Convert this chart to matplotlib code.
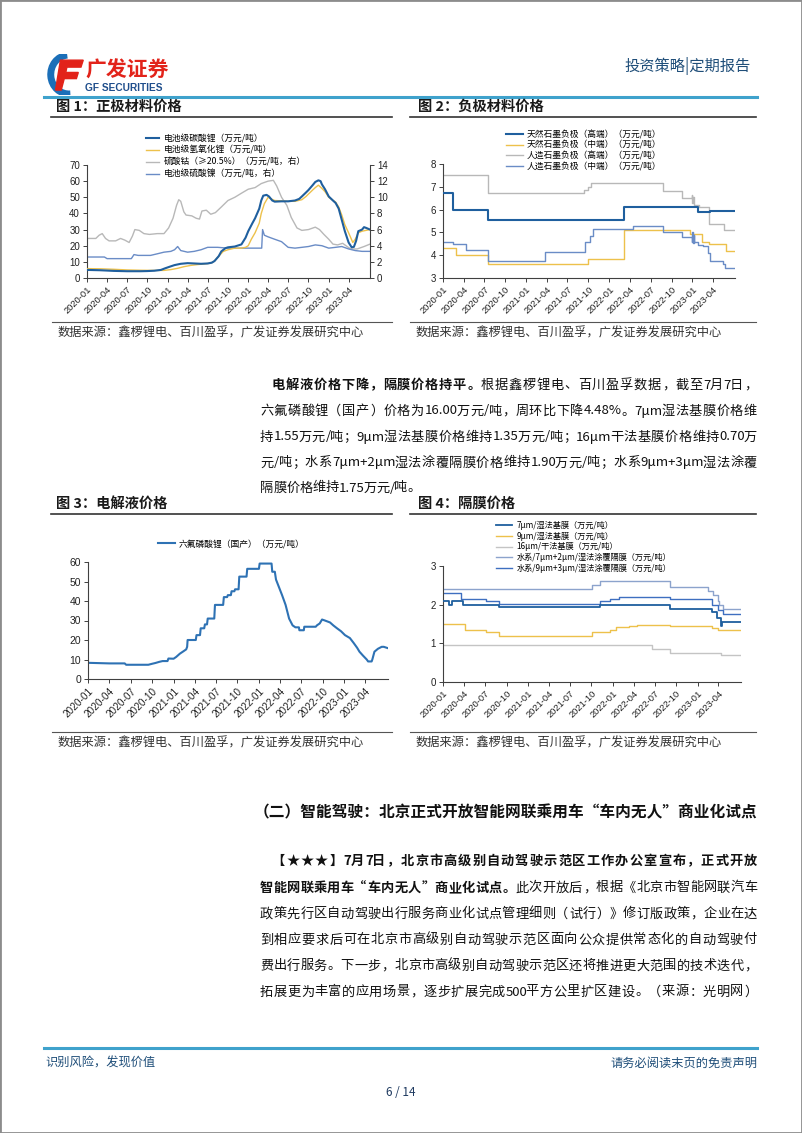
import matplotlib
matplotlib.use('Agg')
import matplotlib.pyplot as plt
import matplotlib.dates as mdates
from matplotlib.patches import Rectangle, Arc, Polygon
from matplotlib.lines import Line2D
import pandas as pd

CN = ['Noto Sans CJK SC', 'DejaVu Sans']
NUM = 'Liberation Sans'
plt.rcParams['font.family'] = CN

W, H = 802, 1133


def fx(px):
    return px / W


def fy(py):
    return 1 - py / H


# ---------------- 图1 正极材料价格 ----------------
carb_dates = ['2020-01-01', '2020-02-01', '2020-03-01', '2020-04-01', '2020-05-01', '2020-06-01',
              '2020-07-01', '2020-08-01', '2020-09-01', '2020-10-01', '2020-11-01', '2020-12-01',
              '2020-12-20', '2021-01-10', '2021-02-01', '2021-03-01', '2021-04-01', '2021-05-01',
              '2021-06-01', '2021-07-01', '2021-07-20', '2021-08-01', '2021-08-20', '2021-09-01',
              '2021-09-20', '2021-10-01', '2021-11-01', '2021-12-01', '2021-12-20', '2022-01-01',
              '2022-01-20', '2022-02-01', '2022-02-20', '2022-03-01', '2022-03-10', '2022-03-25',
              '2022-04-05', '2022-04-20', '2022-05-01', '2022-06-01', '2022-07-01', '2022-08-01',
              '2022-08-20', '2022-09-01', '2022-09-20', '2022-10-01', '2022-10-20', '2022-11-01',
              '2022-11-15', '2022-11-25', '2022-12-01', '2022-12-15', '2023-01-01', '2023-01-20',
              '2023-02-01', '2023-02-15', '2023-03-01', '2023-03-15', '2023-04-01', '2023-04-15',
              '2023-04-25', '2023-05-05', '2023-05-15', '2023-06-01', '2023-06-10', '2023-06-20',
              '2023-07-07']
carb_vals = [5.0, 4.9, 4.8, 4.6, 4.4, 4.3, 4.2, 4.2, 4.2, 4.3, 4.5, 5.0,
             6.0, 7.0, 8.0, 8.8, 9.2, 9.0, 8.8, 9.0, 9.5, 10.5, 13.5, 16.5,
             18.5, 19.0, 19.5, 20.8, 25.0, 29.0, 34.0, 37.0, 43.0, 48.0, 51.0, 51.5,
             50.5, 48.0, 47.3, 47.5, 47.5, 48.0, 49.0, 50.5, 53.0, 54.5, 57.5, 59.5,
             60.5, 60.0, 58.0, 55.0, 50.5, 48.0, 46.5, 43.0, 36.0, 29.0, 22.0, 19.0,
             19.3, 23.0, 29.0, 30.0, 31.5, 31.0, 30.0]

lioh_dates = ['2020-01-01', '2020-03-01', '2020-05-01', '2020-07-01', '2020-09-01', '2020-11-01',
              '2020-12-15', '2021-01-15', '2021-02-15', '2021-03-15', '2021-04-15', '2021-05-15',
              '2021-06-15', '2021-07-15', '2021-08-01', '2021-08-20', '2021-09-10', '2021-10-01',
              '2021-11-01', '2021-12-01', '2021-12-20', '2022-01-01', '2022-01-15', '2022-02-01',
              '2022-02-20', '2022-03-01', '2022-03-15', '2022-04-01', '2022-04-15', '2022-05-01',
              '2022-06-01', '2022-07-01', '2022-08-01', '2022-09-01', '2022-09-20', '2022-10-01',
              '2022-10-20', '2022-11-01', '2022-11-15', '2022-12-01', '2022-12-15', '2023-01-01',
              '2023-02-01', '2023-02-15', '2023-03-01', '2023-03-15', '2023-04-01', '2023-04-20',
              '2023-05-01', '2023-05-15', '2023-06-01', '2023-07-07']
lioh_vals = [5.8, 5.7, 5.4, 5.0, 4.8, 4.7, 4.7, 5.2, 6.0, 7.0, 7.8, 8.3,
             8.7, 9.2, 10.5, 13.5, 16.5, 17.5, 18.5, 18.5, 19.0, 20.0, 24.0, 28.0,
             34.0, 40.0, 46.0, 50.0, 49.0, 48.0, 47.8, 47.5, 47.5, 48.5, 50.5, 52.0,
             54.5, 56.0, 57.5, 55.5, 53.5, 50.0, 47.0, 44.0, 39.0, 33.0, 28.0, 22.0,
             24.0, 28.0, 29.0, 30.0]

coso4_dates = ['2020-01-01', '2020-02-10', '2020-02-25', '2020-03-10', '2020-03-25', '2020-04-10',
               '2020-05-10', '2020-06-01', '2020-06-20', '2020-07-10', '2020-07-25', '2020-08-05',
               '2020-08-25', '2020-09-15', '2020-10-10', '2020-11-15', '2020-12-15', '2021-01-05',
               '2021-01-25', '2021-02-10', '2021-02-20', '2021-03-01', '2021-03-15', '2021-03-25',
               '2021-04-20', '2021-05-10', '2021-05-25', '2021-06-05', '2021-06-25', '2021-07-15',
               '2021-08-05', '2021-09-01', '2021-10-01', '2021-11-01', '2021-12-01', '2022-01-01',
               '2022-02-01', '2022-03-01', '2022-04-01', '2022-04-25', '2022-05-10', '2022-06-01',
               '2022-06-25', '2022-07-15', '2022-08-10', '2022-09-01', '2022-10-01', '2022-11-01',
               '2022-11-20', '2022-12-10', '2023-01-01', '2023-01-20', '2023-02-10', '2023-03-05',
               '2023-03-20', '2023-04-10', '2023-05-10', '2023-06-10', '2023-07-07']
coso4_vals = [4.9, 4.9, 5.3, 5.5, 4.9, 4.6, 4.6, 4.9, 4.7, 4.4, 5.2, 6.0,
              5.9, 5.5, 5.4, 5.5, 5.5, 6.2, 7.4, 9.0, 9.7, 9.5, 8.2, 7.8,
              7.7, 7.4, 7.3, 8.3, 8.4, 7.9, 8.1, 8.8, 9.6, 10.0, 10.5, 11.0,
              11.2, 11.7, 12.0, 12.1, 11.4, 10.0, 9.0, 7.5, 6.2, 5.9, 6.0, 6.3,
              6.0, 5.4, 4.8, 4.2, 4.1, 4.3, 4.0, 3.6, 3.6, 3.9, 4.2]

niso4_dates = ['2020-01-01', '2020-03-20', '2020-04-01', '2020-07-20', '2020-08-01', '2020-08-20',
               '2020-10-15', '2020-11-15', '2020-12-15', '2021-01-15', '2021-02-01', '2021-02-15',
               '2021-03-01', '2021-04-01', '2021-05-01', '2021-06-01', '2021-07-01', '2021-08-15',
               '2021-10-01', '2022-03-03', '2022-03-07', '2022-03-15', '2022-04-01', '2022-05-01',
               '2022-06-01', '2022-07-01', '2022-08-01', '2022-09-01', '2022-10-01', '2022-11-01',
               '2022-12-01', '2023-01-01', '2023-02-01', '2023-03-01', '2023-04-01', '2023-05-01',
               '2023-06-01', '2023-07-07']
niso4_vals = [2.6, 2.6, 2.4, 2.4, 2.9, 2.8, 2.8, 3.0, 3.2, 3.3, 3.5, 3.9,
              3.4, 3.2, 3.3, 3.5, 3.8, 3.8, 3.7, 3.7, 6.0, 5.3, 5.1, 4.8,
              4.5, 3.8, 3.7, 3.8, 3.9, 4.1, 4.0, 3.7, 3.8, 3.9, 3.6, 3.4,
              3.3, 3.3]

# ---------------- 图2 负极材料价格 (阶梯) ----------------
nat_hi_dates = ['2020-01-01', '2020-02-15', '2020-07-18', '2022-03-07', '2023-01-25', '2023-03-18', '2023-07-07']
nat_hi_vals = [6.75, 6.0, 5.55, 6.1, 5.9, 5.95, 5.95]

nat_mid_dates = ['2020-01-01', '2020-02-25', '2020-07-18', '2021-10-01', '2022-03-07', '2022-12-20',
                 '2023-02-10', '2023-03-15', '2023-05-28', '2023-07-07']
nat_mid_vals = [4.3, 4.0, 3.6, 3.85, 5.1, 4.95, 4.6, 4.5, 4.2, 4.2]

art_hi_dates = ['2020-01-01', '2020-07-18', '2021-09-12', '2021-09-28', '2021-10-12', '2022-08-25',
                '2022-11-15', '2022-12-28', '2023-01-01', '2023-01-04', '2023-01-08', '2023-01-28',
                '2023-03-15', '2023-05-20', '2023-07-07']
art_hi_vals = [7.5, 6.75, 6.85, 7.0, 7.15, 6.8, 6.5, 6.65, 6.3, 6.55, 6.2, 6.1, 5.35, 5.1, 5.1]

art_mid_dates = ['2020-01-01', '2020-02-15', '2020-04-10', '2020-07-18', '2021-03-22', '2021-09-15',
                 '2021-10-06', '2021-10-22', '2022-04-15', '2022-08-25', '2022-11-15', '2022-12-28',
                 '2023-01-01', '2023-01-04', '2023-01-07', '2023-01-10', '2023-01-25', '2023-02-15',
                 '2023-03-10', '2023-03-18', '2023-05-15', '2023-05-25', '2023-07-07']
art_mid_vals = [4.6, 4.5, 4.25, 3.75, 4.15, 4.6, 4.85, 5.15, 5.3, 5.0, 4.8, 4.6,
                5.0, 4.55, 4.9, 4.6, 4.45, 4.4, 4.1, 3.75, 3.6, 3.45, 3.45]

# ---------------- 图3 电解液价格 ----------------
lipf6_dates = ['2020-01-01', '2020-04-01', '2020-06-06', '2020-06-12', '2020-09-15', '2020-10-01',
               '2020-10-15', '2020-11-01', '2020-11-15', '2020-12-06', '2020-12-10', '2021-01-01',
               '2021-01-12', '2021-01-28', '2021-02-12', '2021-02-24', '2021-02-28', '2021-03-02',
               '2021-04-06', '2021-04-09', '2021-04-24', '2021-04-27', '2021-05-12', '2021-05-15',
               '2021-05-24', '2021-05-27', '2021-06-24', '2021-06-27', '2021-08-01', '2021-08-04',
               '2021-08-18', '2021-08-21', '2021-09-03', '2021-09-06', '2021-09-18', '2021-09-21',
               '2021-10-06', '2021-10-09', '2021-11-09', '2021-11-12', '2022-01-01', '2022-01-04',
               '2022-02-24', '2022-02-27', '2022-03-10', '2022-03-15', '2022-03-28', '2022-04-10',
               '2022-04-25', '2022-05-10', '2022-05-25', '2022-06-06', '2022-06-21', '2022-06-23',
               '2022-07-12', '2022-07-14', '2022-09-01', '2022-09-06', '2022-09-18', '2022-09-28',
               '2022-10-10', '2022-11-01', '2022-11-15', '2022-12-01', '2022-12-18', '2023-01-04',
               '2023-01-25', '2023-02-10', '2023-02-25', '2023-03-07', '2023-03-22', '2023-04-07',
               '2023-04-13', '2023-04-28', '2023-05-01', '2023-05-10', '2023-05-25', '2023-06-10',
               '2023-06-19', '2023-07-07']
lipf6_vals = [8.3, 8.0, 8.0, 7.3, 7.3, 7.8, 8.2, 8.8, 9.2, 9.2, 10.5, 10.4,
              11.3, 13.0, 14.2, 15.2, 16.5, 20.0, 20.0, 22.5, 22.5, 26.0, 26.0, 28.0,
              28.0, 31.0, 31.0, 38.0, 38.0, 42.0, 42.0, 43.0, 43.0, 45.0, 45.0, 46.0,
              46.0, 52.5, 52.5, 56.5, 56.5, 59.2, 59.2, 55.0, 55.0, 51.0, 47.0, 43.0,
              38.0, 31.0, 27.5, 26.5, 26.5, 25.0, 25.0, 26.8, 26.8, 27.5, 28.5, 30.5,
              30.0, 29.0, 27.5, 26.0, 24.5, 22.5, 21.0, 18.5, 16.0, 14.0, 12.0, 10.0,
              9.0, 9.0, 10.0, 14.0, 15.5, 16.5, 16.5, 15.8]

# ---------------- 图4 隔膜价格 (阶梯) ----------------
wet7_dates = ['2020-01-01', '2020-01-25', '2020-02-08', '2020-03-25', '2020-08-28', '2021-11-05',
              '2022-09-03', '2023-03-05', '2023-03-25', '2023-04-12', '2023-04-18', '2023-07-07']
wet7_vals = [2.1, 2.0, 2.1, 2.0, 1.95, 2.0, 1.9, 1.8, 1.65, 1.45, 1.55, 1.55]

wet9_dates = ['2020-01-01', '2020-04-03', '2020-07-03', '2020-08-28', '2021-10-03', '2021-12-18',
              '2022-01-15', '2022-03-12', '2022-04-15', '2022-09-03', '2023-03-05', '2023-03-28',
              '2023-07-07']
wet9_vals = [1.5, 1.35, 1.3, 1.2, 1.3, 1.35, 1.42, 1.45, 1.48, 1.45, 1.4, 1.35, 1.35]

dry16_dates = ['2020-01-01', '2022-06-20', '2022-09-03', '2023-04-12', '2023-07-07']
dry16_vals = [0.95, 0.85, 0.75, 0.7, 0.7]

coat72_dates = ['2020-01-01', '2021-10-03', '2021-11-05', '2022-09-03', '2023-02-15', '2023-03-10',
                '2023-03-28', '2023-04-05', '2023-04-20', '2023-07-07']
coat72_vals = [2.4, 2.5, 2.6, 2.45, 2.35, 2.25, 2.1, 2.0, 1.9, 1.9]

coat93_dates = ['2020-01-01', '2020-03-18', '2020-07-03', '2020-08-28', '2021-11-05', '2021-12-18',
                '2022-01-28', '2022-09-03', '2023-03-05', '2023-03-28', '2023-04-20', '2023-07-07']
coat93_vals = [2.3, 2.15, 2.1, 2.03, 2.1, 2.15, 2.2, 2.15, 2.0, 1.85, 1.75, 1.75]

x_start, x_end = pd.Timestamp('2020-01-01'), pd.Timestamp('2023-07-07')
x_ticks = pd.date_range('2020-01-01', '2023-04-01', freq='QS')

DARK = '#1F5F9E'
YEL = '#EDC14B'
GRAY = '#B8B8B8'
STEEL = '#6A8CC6'


def d(lst):
    return pd.to_datetime(lst)


def style(ax, fs=7.0):
    ax.set_xlim(x_start, x_end)
    ax.set_xticks(x_ticks)
    ax.xaxis.set_major_formatter(mdates.DateFormatter('%Y-%m'))
    ax.spines['top'].set_visible(False)
    ax.spines['right'].set_visible(False)
    for s in ['left', 'bottom']:
        ax.spines[s].set_color('#404040')
        ax.spines[s].set_linewidth(0.8)
    ax.tick_params(length=3, width=0.7, color='#404040', labelsize=fs,
                   labelfontfamily=NUM, labelcolor='#222222', pad=2)
    ax.tick_params(axis='x', labelrotation=45, labelsize=fs - 0.3)
    for lab in ax.get_xticklabels():
        lab.set_ha('right')
        lab.set_rotation_mode('anchor')


def legend(handles, labels, x, y, fs=6.3, hl=1.5, sp=0.3):
    fig.legend(handles, labels, loc='upper left', bbox_to_anchor=(fx(x), fy(y)),
               frameon=False, prop={'family': CN, 'size': fs}, handlelength=hl,
               handletextpad=0.5, labelspacing=sp, borderpad=0, borderaxespad=0)


fig = plt.figure(figsize=(W / 100, H / 100), dpi=100)

# 页面边框
fig.patches.append(Rectangle((0, 0), 1, 1, transform=fig.transFigure, fill=False,
                             edgecolor='#8C8C8C', lw=2))

# 页眉
icon = fig.add_axes([fx(46), fy(95), fx(38), fy(54) - fy(95)])
icon.set_xlim(0, 1)
icon.set_ylim(0, 1)
icon.axis('off')
icon.add_patch(Arc((0.6, 0.5), 0.95, 0.95, theta1=95, theta2=275, lw=5, color='#1B6FB8'))
icon.add_patch(Polygon([[0.38, 0.85], [0.98, 0.85], [0.92, 0.68], [0.55, 0.68], [0.52, 0.55],
                        [0.85, 0.55], [0.8, 0.40], [0.48, 0.40], [0.40, 0.12], [0.25, 0.12]],
                       closed=True, color='#E2231A'))
fig.text(fx(85), fy(70), '广发证券', fontsize=15, fontweight='bold', color='#E2231A',
         va='center', ha='left')
fig.text(fx(85), fy(88), 'GF SECURITIES', fontsize=7.3, fontweight='bold', color='#1F4E8C',
         family=NUM, va='center', ha='left')
fig.text(fx(751), fy(66), '投资策略|定期报告', fontsize=11, color='#1F4E79', ha='right', va='center')
fig.add_artist(Line2D([fx(44), fx(757)], [fy(97), fy(97)], color='#3FA2CC', lw=2.2))


# 图标题
def fig_title(x, y, s, x0, x1):
    fig.text(fx(x), fy(y), s, fontsize=10.3, fontweight='bold', color='#1a1a1a', va='center')
    fig.add_artist(Line2D([fx(x0), fx(x1)], [fy(y + 10), fy(y + 10)], color='#333333', lw=1.2))


def source(y, x0, x1):
    fig.add_artist(Line2D([fx(x0), fx(x1)], [fy(y - 11), fy(y - 11)], color='#555555', lw=0.8))
    fig.text(fx(x0 + 6), fy(y), '数据来源：鑫椤锂电、百川盈孚，广发证券发展研究中心',
             fontsize=8.8, color='#333333', va='center')


fig_title(56, 107, '图 1：正极材料价格', 51, 392)
fig_title(418, 107, '图 2：负极材料价格', 410, 756)
fig_title(56, 504, '图 3：电解液价格', 51, 392)
fig_title(418, 504, '图 4：隔膜价格', 410, 756)
source(333, 52, 392)
source(333, 410, 756)
source(743, 52, 392)
source(743, 410, 756)

# ---- 图1 ----
ax1 = fig.add_axes([fx(87), fy(278), fx(370) - fx(87), fy(165) - fy(278)])
ax1r = ax1.twinx()
l3, = ax1r.plot(d(coso4_dates), coso4_vals, color=GRAY, lw=1.0)
l4, = ax1r.plot(d(niso4_dates), niso4_vals, color=STEEL, lw=1.0)
l2, = ax1.plot(d(lioh_dates), lioh_vals, color=YEL, lw=1.0, zorder=3)
l1, = ax1.plot(d(carb_dates), carb_vals, color=DARK, lw=1.5, zorder=4)
ax1.set_zorder(ax1r.get_zorder() + 1)
ax1.patch.set_visible(False)
ax1.set_ylim(0, 70)
ax1.set_yticks(range(0, 71, 10))
ax1r.set_ylim(0, 14)
ax1r.set_yticks(range(0, 15, 2))
style(ax1)
for s in ['top', 'left', 'bottom']:
    ax1r.spines[s].set_visible(False)
ax1r.spines['right'].set_color('#404040')
ax1r.spines['right'].set_linewidth(0.8)
ax1r.tick_params(length=3, width=0.7, color='#404040', labelsize=7, labelfontfamily=NUM,
                 labelcolor='#222222', pad=2)
legend([l1, l2, l3, l4], ['电池级碳酸锂（万元/吨）', '电池级氢氧化锂（万元/吨）',
                          '硫酸钴（≥20.5%）（万元/吨，右）', '电池级硫酸镍（万元/吨，右）'], 146, 134, sp=0.32)

# ---- 图2 ----
ax2 = fig.add_axes([fx(443), fy(278), fx(735) - fx(443), fy(164) - fy(278)])
m1, = ax2.plot(d(nat_hi_dates), nat_hi_vals, color=DARK, lw=1.5, drawstyle='steps-post', zorder=4)
m2, = ax2.plot(d(nat_mid_dates), nat_mid_vals, color=YEL, lw=1.0, drawstyle='steps-post')
m3, = ax2.plot(d(art_hi_dates), art_hi_vals, color=GRAY, lw=1.0, drawstyle='steps-post')
m4, = ax2.plot(d(art_mid_dates), art_mid_vals, color=STEEL, lw=1.0, drawstyle='steps-post')
ax2.set_ylim(3, 8)
ax2.set_yticks(range(3, 9))
style(ax2)
legend([m1, m2, m3, m4], ['天然石墨负极（高端）（万元/吨）', '天然石墨负极（中端）（万元/吨）',
                          '人造石墨负极（高端）（万元/吨）', '人造石墨负极（中端）（万元/吨）'],
       506, 130, hl=1.9, sp=0.17)

# ---- 图3 ----
ax3 = fig.add_axes([fx(88), fy(679), fx(388) - fx(88), fy(562) - fy(679)])
n1, = ax3.plot(d(lipf6_dates), lipf6_vals, color='#2E72B4', lw=1.5)
ax3.set_ylim(0, 60)
ax3.set_yticks(range(0, 61, 10))
style(ax3, fs=7.5)
legend([n1], ['六氟磷酸锂（国产）（万元/吨）'], 158, 539, hl=1.9)

# ---- 图4 ----
ax4 = fig.add_axes([fx(443), fy(682), fx(741) - fx(443), fy(566) - fy(682)])
p1, = ax4.plot(d(wet7_dates), wet7_vals, color=DARK, lw=1.3, drawstyle='steps-post', zorder=4)
p2, = ax4.plot(d(wet9_dates), wet9_vals, color=YEL, lw=1.0, drawstyle='steps-post')
p3, = ax4.plot(d(dry16_dates), dry16_vals, color='#C4C4C4', lw=1.0, drawstyle='steps-post')
p4, = ax4.plot(d(coat72_dates), coat72_vals, color='#8CA3CC', lw=1.0, drawstyle='steps-post')
p5, = ax4.plot(d(coat93_dates), coat93_vals, color='#3E6FC0', lw=1.0, drawstyle='steps-post')
ax4.set_ylim(0, 3)
ax4.set_yticks(range(0, 4))
style(ax4)
legend([p1, p2, p3, p4, p5], ['7μm/湿法基膜（万元/吨）', '9μm/湿法基膜（万元/吨）',
                              '16μm/干法基膜（万元/吨）', '水系/7μm+2μm/湿法涂覆隔膜（万元/吨）',
                              '水系/9μm+3μm/湿法涂覆隔膜（万元/吨）'], 496, 521, fs=5.9, hl=2.0, sp=0.18)

# ---------------- 正文 ----------------
renderer = fig.canvas.get_renderer()
BODY = 9.5
LEFT_INK = '，。、；：）》】”！？'
RIGHT_INK = '（《【“'


def text_line(x0, y, parts, x1=None, fs=BODY):
    # parts: [(文字, 是否加粗)]；给出 x1 时两端对齐
    em = fs * 100 / 72
    tokens = []
    for s, bold in parts:
        buf = ''
        for ch in s:
            if ord(ch) < 0x2000:
                buf += ch
            else:
                if buf:
                    tokens.append((buf, bold, False))
                    buf = ''
                tokens.append((ch, bold, True))
        if buf:
            tokens.append((buf, bold, False))
    items = []
    total = 0
    for s, bold, wide in tokens:
        t = fig.text(0, fy(y), s, fontsize=fs, fontweight='bold' if bold else 'normal',
                     color='#111111', va='center')
        w = em if wide else t.get_window_extent(renderer).width - 1.6
        items.append((t, s, wide, w))
        total += w
    gap = 0 if x1 is None else (x1 - x0 - total) / (len(items) - 1)
    x = x0
    for t, s, wide, w in items:
        if not wide:
            t.set_x(fx(x))
        elif s in LEFT_INK:
            t.set_x(fx(x + 0.04 * em))
        elif s in RIGHT_INK:
            t.set_ha('right')
            t.set_x(fx(x + 0.96 * em))
        else:
            t.set_ha('center')
            t.set_x(fx(x + 0.5 * em))
        x += w + gap


text_line(272, 385, [('电解液价格下降，隔膜价格持平。', True), ('根据鑫椤锂电、百川盈孚数据，截至7月7日，', False)], 757)
text_line(260, 411, [('六氟磷酸锂（国产）价格为16.00万元/吨，周环比下降4.48%。7μm湿法基膜价格维', False)], 757)
text_line(260, 437, [('持1.55万元/吨；9μm湿法基膜价格维持1.35万元/吨；16μm干法基膜价格维持0.70万', False)], 757)
text_line(260, 463, [('元/吨；水系7μm+2μm湿法涂覆隔膜价格维持1.90万元/吨；水系9μm+3μm湿法涂覆', False)], 757)
text_line(260, 488, [('隔膜价格维持1.75万元/吨。', False)])

fig.text(fx(757), fy(812), '（二）智能驾驶：北京正式开放智能网联乘用车“车内无人”商业化试点',
         fontsize=11.3, fontweight='bold', color='#111111', ha='right', va='center')

text_line(272, 861, [('【★★★】7月7日，北京市高级别自动驾驶示范区工作办公室宣布，正式开放', True)], 757)
text_line(260, 888, [('智能网联乘用车“车内无人”商业化试点。', True), ('此次开放后，根据《北京市智能网联汽车', False)], 757)
text_line(260, 914, [('政策先行区自动驾驶出行服务商业化试点管理细则（试行）》修订版政策，企业在达', False)], 757)
text_line(260, 940, [('到相应要求后可在北京市高级别自动驾驶示范区面向公众提供常态化的自动驾驶付', False)], 757)
text_line(260, 966, [('费出行服务。下一步，北京市高级别自动驾驶示范区还将推进更大范围的技术迭代，', False)], 757)
text_line(260, 992, [('拓展更为丰富的应用场景，逐步扩展完成500平方公里扩区建设。（来源：光明网）', False)], 757)

# 页脚
fig.add_artist(Line2D([fx(44), fx(757)], [fy(1048), fy(1048)], color='#3FA2CC', lw=2.2))
fig.text(fx(45), fy(1063), '识别风险，发现价值', fontsize=8.8, color='#1F4E79', va='center')
fig.text(fx(757), fy(1063), '请务必阅读末页的免责声明', fontsize=8.8, color='#1F4E79', va='center', ha='right')
fig.text(fx(401), fy(1093), '6 / 14', fontsize=8.5, color='#1F3A60', va='center', ha='center')

fig.savefig('out.png', dpi=100)
